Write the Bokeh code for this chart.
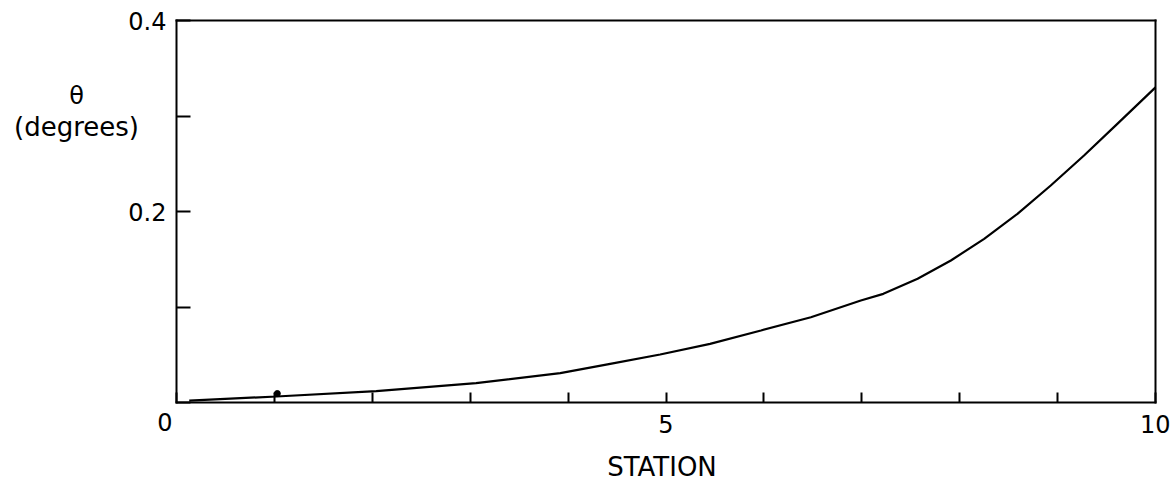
from bokeh.plotting import figure
from bokeh.models import Range1d, FixedTicker, Label, LinearAxis
from bokeh.embed import file_html
from bokeh.resources import INLINE

# Data
station = [0.13, 1.02, 2.04, 3.06, 3.92, 4.43, 4.94, 5.45, 5.97, 6.48, 6.99,
           7.22, 7.57, 7.91, 8.25, 8.59, 8.93, 9.27, 9.61, 10.0]
theta = [0.002, 0.0063, 0.0119, 0.0202, 0.0307, 0.0405, 0.0503, 0.0614, 0.0754, 0.0893, 0.1068,
         0.1138, 0.1295, 0.1487, 0.1714, 0.1976, 0.2272, 0.2586, 0.2918, 0.330]
dot_x = [1.03]
dot_y = [0.0094]

x_ticks = [0, 1, 2, 3, 4, 5, 6, 7, 8, 9, 10]
x_labels = {5: "5", 10: "10"}
y_ticks = [0.0, 0.1, 0.2, 0.3, 0.4]
y_labels = {0.2: "0.2", 0.4: "0.4"}

FONT = "DejaVu Sans"
W, H = 1170, 484
# frame box in pixels: x 176..1155, y 20..402
PX_X = (1155 - 176) / 10.0
PX_Y = (402 - 20) / 0.4

p = figure(width=W, height=H, output_backend="svg", toolbar_location=None,
           x_range=Range1d(-176 / PX_X, 10 + (W - 1155) / PX_X),
           y_range=Range1d(-(H - 402) / PX_Y, 0.4 + 20 / PX_Y),
           x_axis_type=None, y_axis_type=None,
           min_border_left=0, min_border_right=0, min_border_top=0, min_border_bottom=0)
p.grid.visible = False
p.background_fill_color = "white"
p.border_fill_color = "white"
p.outline_line_color = None


def style_axis(ax):
    ax.minor_tick_line_color = None
    ax.major_tick_out = 0
    ax.major_tick_line_width = 2
    ax.major_tick_line_color = "black"
    ax.axis_line_width = 2
    ax.axis_line_color = "black"
    ax.axis_line_cap = "square"
    ax.major_label_text_font = FONT
    ax.major_label_text_font_size = "24px"
    ax.major_label_text_color = "black"


xa = LinearAxis(fixed_location=0, bounds=(0, 10), ticker=FixedTicker(ticks=x_ticks),
                major_label_overrides={t: x_labels.get(t, "") for t in x_ticks})
style_axis(xa)
xa.major_tick_in = 10
xa.major_label_standoff = 12
p.add_layout(xa, "below")

ya = LinearAxis(fixed_location=0, bounds=(0, 0.4), ticker=FixedTicker(ticks=y_ticks),
                major_label_overrides={t: y_labels.get(t, "") for t in y_ticks})
style_axis(ya)
ya.major_tick_in = 14
ya.major_label_standoff = 10
p.add_layout(ya, "left")

ta = LinearAxis(fixed_location=0.4, bounds=(0, 10), ticker=FixedTicker(ticks=[]))
style_axis(ta)
ta.major_tick_in = 0
p.add_layout(ta, "above")

ra = LinearAxis(fixed_location=10, bounds=(0, 0.4), ticker=FixedTicker(ticks=[]))
style_axis(ra)
ra.major_tick_in = 0
p.add_layout(ra, "right")

p.line(station, theta, line_color="black", line_width=2.2)
p.scatter(dot_x, dot_y, size=6, color="black")

p.add_layout(Label(x=0, y=0, x_offset=-4, y_offset=-10, text="0", text_align="right",
                   text_baseline="top", text_font=FONT, text_font_size="24px", text_color="black"))
p.add_layout(Label(x=-100 / PX_X, y=(402 - 95) / PX_Y, text="θ", text_align="center",
                   text_baseline="middle", text_font=FONT, text_font_size="24px", text_color="black"))
p.add_layout(Label(x=-100 / PX_X, y=(402 - 126) / PX_Y, text="(degrees)", text_align="center",
                   text_baseline="middle", text_font=FONT, text_font_size="26px", text_color="black"))
p.add_layout(Label(x=5.0 - 4 / PX_X, y=-(466 - 402) / PX_Y, text="STATION", text_align="center",
                   text_baseline="middle", text_font=FONT, text_font_size="26px", text_color="black"))

open("out.html", "w").write(file_html(p, INLINE))
